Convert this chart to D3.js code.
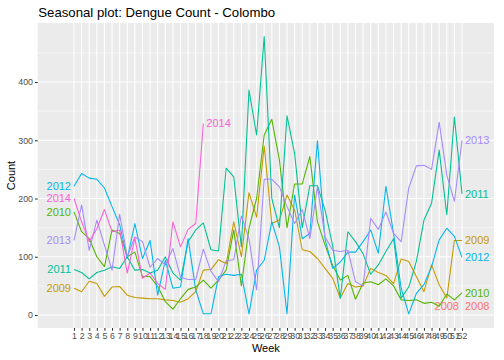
<!DOCTYPE html>
<html><head><meta charset="utf-8">
<script src="https://cdn.jsdelivr.net/npm/d3@7"></script>
<style>body{margin:0;background:#fff}text{font-family:"Liberation Sans",Arial,sans-serif}</style>
</head><body><svg id="c" width="504" height="360"></svg>
<script>
const weeks = [1,2,3,4,5,6,7,8,9,10,11,12,13,14,15,16,17,18,19,20,21,22,23,24,25,26,27,28,29,30,31,32,33,34,35,36,37,38,39,40,41,42,43,44,45,46,47,48,49,50,51,52];
const years = ["2008","2009","2010","2011","2012","2013","2014"];
const colors = ["#F8766D","#C49A00","#53B400","#00C094","#00B6EB","#A58AFF","#FB61D7"];
const yTicks = [0,100,200,300,400];
const s2008 = [null,null,null,null,null,null,null,null,null,null,null,null,null,null,null,null,null,null,null,null,null,null,null,null,null,null,null,null,null,null,null,null,null,null,null,null,null,null,null,null,null,null,null,null,null,null,null,null,null,null,null,15];
const s2009 = [46,40,58,54,32,48,49,34,30,29,28,28,26,25,22,28,40,77,78,95,88,160,100,210,168,290,157,163,206,180,112,109,97,80,63,29,54,48,50,80,73,68,54,96,92,66,40,86,52,29,128,128];
const s2010 = [177,143,131,100,83,146,140,100,108,66,66,49,23,10,28,44,48,60,46,60,77,146,50,149,200,309,336,266,150,225,225,272,160,120,85,60,68,27,55,57,52,62,50,26,25,26,20,22,15,36,26,38];
const s2011 = [78,73,62,73,77,83,80,100,77,78,72,77,100,72,60,126,146,158,112,110,252,237,117,386,309,478,200,150,342,277,150,222,222,180,119,29,143,126,105,70,86,109,131,29,48,92,163,192,283,172,340,208];
const s2012 = [221,243,235,233,218,186,155,97,157,97,128,34,94,46,48,131,43,2,2,66,70,68,70,2,77,94,160,117,2,206,131,140,299,130,80,91,108,108,126,146,106,221,140,46,2,37,52,83,129,149,135,99];
const s2013 = [128,189,111,163,120,77,173,100,134,126,82,97,86,114,65,61,61,113,75,57,93,95,170,131,43,233,233,220,186,157,181,131,220,134,111,109,111,57,50,166,147,177,140,126,218,256,257,250,331,240,195,300];
const s2014 = [200,160,126,148,181,143,146,72,132,63,72,54,44,160,117,147,157,329,null,null,null,null,null,null,null,null,null,null,null,null,null,null,null,null,null,null,null,null,null,null,null,null,null,null,null,null,null,null,null,null,null,null];
const seriesValues = [s2008,s2009,s2010,s2011,s2012,s2013,s2014];

const svg = d3.select("#c");
const P = {l:37.7, r:494, t:23, b:328};
const x = d3.scaleLinear().domain([1,52]).range([74,462]);
const y = d3.scaleLinear().domain([0,400]).range([315,82]);

svg.append("rect").attr("x",P.l).attr("y",P.t).attr("width",P.r-P.l).attr("height",P.b-P.t).attr("fill","#EBEBEB");
const yMinor = [50,150,250,350,450];
svg.append("g").selectAll("line").data(yMinor).join("line")
  .attr("x1",P.l).attr("x2",P.r).attr("y1",d=>y(d)).attr("y2",d=>y(d))
  .attr("stroke","#fff").attr("stroke-width",0.53);
svg.append("g").selectAll("line").data(yTicks).join("line")
  .attr("x1",P.l).attr("x2",P.r).attr("y1",d=>y(d)).attr("y2",d=>y(d))
  .attr("stroke","#fff").attr("stroke-width",1.07);
svg.append("g").selectAll("line").data(weeks).join("line")
  .attr("x1",d=>x(d)).attr("x2",d=>x(d)).attr("y1",P.t).attr("y2",P.b)
  .attr("stroke","#fff").attr("stroke-width",1.07);

const line = d3.line().defined(d=>d.v!=null).x(d=>x(d.w)).y(d=>y(d.v));
years.forEach((yr,i)=>{
  const pts = weeks.map((w,j)=>({w:w,v:seriesValues[i][j]}));
  svg.append("path").datum(pts).attr("d",line).attr("fill","none")
    .attr("stroke",colors[i]).attr("stroke-width",1.07).attr("stroke-linejoin","round");
  const valid = pts.filter(p=>p.v!=null);
  const first = valid[0], last = valid[valid.length-1];
  svg.append("text").attr("x",x(first.w)-3).attr("y",y(first.v)).attr("dy","0.35em")
    .attr("text-anchor","end").attr("font-size",11).attr("fill",colors[i]).text(yr);
  svg.append("text").attr("x",x(last.w)+3).attr("y",y(last.v)).attr("dy","0.35em")
    .attr("text-anchor","start").attr("font-size",11).attr("fill",colors[i]).text(yr);
});

const xa = svg.append("g").attr("transform",`translate(0,${P.b})`)
  .call(d3.axisBottom(x).tickValues(weeks).tickFormat(d3.format("d")).tickSize(2.75).tickPadding(2));
const ya = svg.append("g").attr("transform",`translate(${P.l},0)`)
  .call(d3.axisLeft(y).tickValues(yTicks).tickSize(2.75).tickPadding(2));
[xa,ya].forEach(a=>{
  a.select(".domain").remove();
  a.selectAll(".tick line").attr("stroke","#333").attr("stroke-width",1.07);
  a.selectAll(".tick text").attr("fill","#4D4D4D").attr("font-size",8.8).attr("font-family","Liberation Sans, Arial, sans-serif");
});

svg.append("text").attr("x",38.3).attr("y",16.5).attr("font-size",13.2).attr("fill","#000").text("Seasonal plot: Dengue Count - Colombo");
svg.append("text").attr("x",(P.l+P.r)/2).attr("y",352).attr("text-anchor","middle").attr("font-size",11).attr("fill","#000").text("Week");
svg.append("text").attr("transform",`translate(14.5,${(P.t+P.b)/2}) rotate(-90)`).attr("text-anchor","middle").attr("font-size",11).attr("fill","#000").text("Count");
</script></body></html>
